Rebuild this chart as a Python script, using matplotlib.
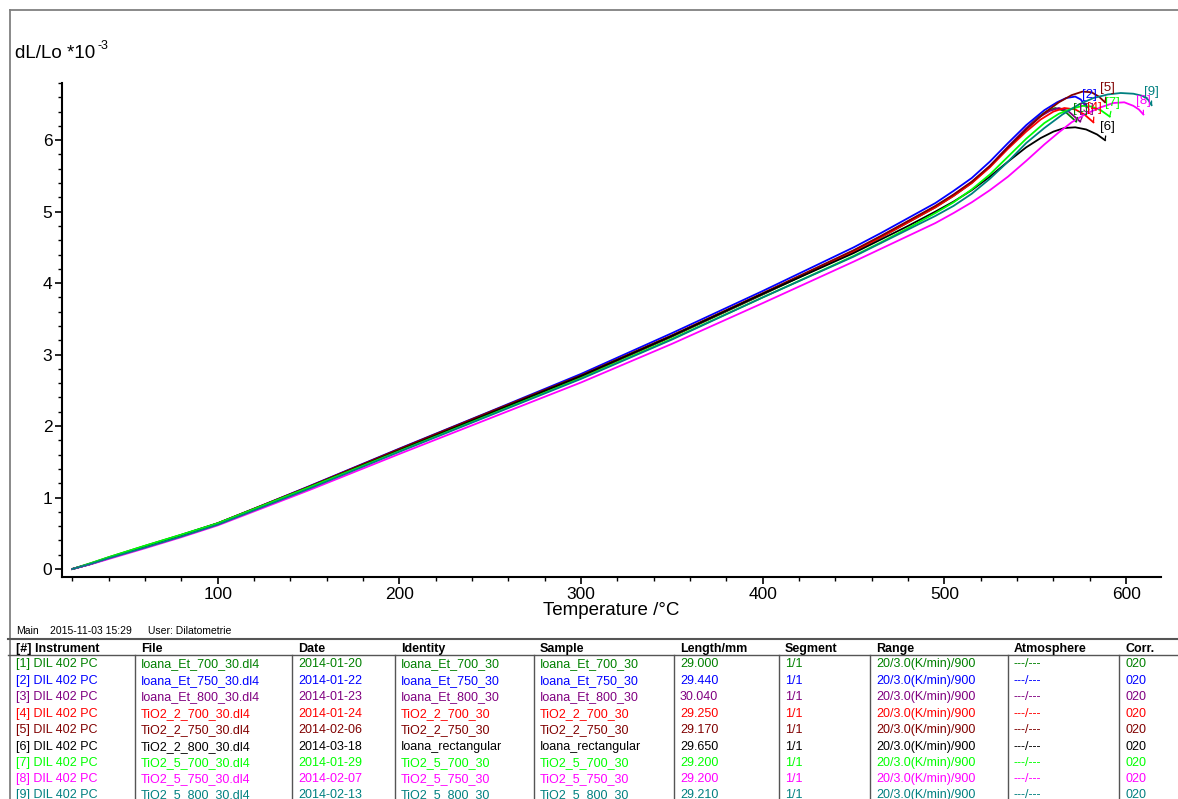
import matplotlib
matplotlib.use("Agg")
import matplotlib.pyplot as plt
from matplotlib.lines import Line2D
from matplotlib.ticker import MultipleLocator

plt.rcParams['font.family'] = ['Liberation Sans', 'DejaVu Sans']

W, H = 1178, 799

# temperature grid shared by the lower part of every run (°C)
t_low = [20, 30, 40, 60, 80, 100, 125, 150, 200, 250, 300, 350, 400, 450]

# dL/Lo (*10^-3) on t_low, then each run's own high-temperature part
dl_1 = [0, 0.08, 0.165, 0.325, 0.48, 0.64, 0.89, 1.145, 1.665, 2.18, 2.69, 3.25, 3.84, 4.44]
t_1 = [465, 480, 495, 505, 515, 525, 535, 545, 551, 556, 561, 566, 572.5]
v_1 = [4.64, 4.85, 5.06, 5.22, 5.40, 5.63, 5.90, 6.16, 6.31, 6.40, 6.45, 6.41, 6.26]

dl_2 = [0, 0.07, 0.155, 0.315, 0.475, 0.64, 0.895, 1.155, 1.685, 2.205, 2.73, 3.30, 3.89, 4.50]
t_2 = [465, 480, 495, 505, 515, 525, 535, 545, 555, 562, 567, 572, 575, 577.4]
v_2 = [4.70, 4.91, 5.12, 5.29, 5.47, 5.70, 5.96, 6.21, 6.42, 6.53, 6.59, 6.61, 6.57, 6.49]

dl_3 = [0, 0.07, 0.155, 0.31, 0.47, 0.635, 0.89, 1.145, 1.67, 2.19, 2.70, 3.26, 3.85, 4.45]
t_3 = [465, 480, 495, 505, 515, 525, 535, 545, 552, 558, 563, 568, 574.7]
v_3 = [4.65, 4.86, 5.07, 5.23, 5.41, 5.64, 5.91, 6.17, 6.32, 6.41, 6.45, 6.41, 6.26]

dl_4 = [0, 0.07, 0.155, 0.31, 0.47, 0.635, 0.89, 1.145, 1.67, 2.19, 2.70, 3.26, 3.85, 4.44]
t_4 = [465, 480, 495, 505, 515, 525, 535, 545, 553, 560, 566, 572, 577, 582]
v_4 = [4.64, 4.85, 5.06, 5.22, 5.40, 5.62, 5.88, 6.12, 6.29, 6.40, 6.45, 6.43, 6.36, 6.25]

dl_5 = [0, 0.07, 0.155, 0.31, 0.47, 0.64, 0.895, 1.15, 1.68, 2.20, 2.71, 3.27, 3.86, 4.46]
t_5 = [465, 480, 495, 505, 515, 525, 535, 545, 555, 563, 570, 576, 581, 585, 588.4]
v_5 = [4.66, 4.87, 5.08, 5.24, 5.42, 5.64, 5.90, 6.15, 6.38, 6.53, 6.63, 6.68, 6.67, 6.61, 6.53]

dl_6 = [0, 0.07, 0.15, 0.31, 0.47, 0.63, 0.885, 1.14, 1.66, 2.18, 2.70, 3.26, 3.85, 4.42]
t_6 = [465, 480, 495, 505, 515, 525, 535, 545, 553, 560, 566, 572, 578, 584, 588.4]
v_6 = [4.61, 4.80, 5.00, 5.14, 5.30, 5.49, 5.70, 5.90, 6.03, 6.12, 6.17, 6.18, 6.15, 6.08, 6.00]

dl_7 = [0, 0.08, 0.165, 0.325, 0.48, 0.64, 0.89, 1.14, 1.65, 2.16, 2.67, 3.22, 3.80, 4.38]
t_7 = [465, 480, 495, 505, 515, 525, 535, 545, 555, 563, 570, 576, 581, 586, 591]
v_7 = [4.57, 4.77, 4.98, 5.13, 5.31, 5.52, 5.77, 6.02, 6.24, 6.37, 6.44, 6.48, 6.47, 6.42, 6.33]

dl_8 = [0, 0.065, 0.14, 0.29, 0.445, 0.61, 0.855, 1.10, 1.61, 2.11, 2.61, 3.15, 3.72, 4.30]
t_8 = [465, 480, 495, 505, 515, 525, 535, 545, 555, 563, 570, 578, 586, 593, 599, 604, 607, 609.5]
v_8 = [4.48, 4.66, 4.84, 4.98, 5.13, 5.30, 5.49, 5.71, 5.94, 6.11, 6.25, 6.37, 6.46, 6.52, 6.53, 6.48, 6.43, 6.36]

dl_9 = [0, 0.07, 0.15, 0.30, 0.455, 0.62, 0.87, 1.12, 1.64, 2.15, 2.66, 3.21, 3.80, 4.37]
t_9 = [465, 480, 495, 505, 515, 525, 535, 545, 555, 565, 574, 582, 590, 597, 604, 609, 612, 614]
v_9 = [4.56, 4.75, 4.94, 5.08, 5.25, 5.46, 5.70, 5.96, 6.17, 6.36, 6.50, 6.59, 6.64, 6.66, 6.65, 6.62, 6.57, 6.49]

runs = [(dl_1, t_1, v_1), (dl_2, t_2, v_2), (dl_3, t_3, v_3),
        (dl_4, t_4, v_4), (dl_5, t_5, v_5), (dl_6, t_6, v_6),
        (dl_7, t_7, v_7), (dl_8, t_8, v_8), (dl_9, t_9, v_9)]

colors = ['#008000', '#0000ff', '#800080', '#ff0000', '#800000',
          '#000000', '#00ff00', '#ff00ff', '#008080']

# label offsets from curve end, in pixels (right, up)
label_off = [(4, 13), (4, 10), (6, 13), (1, 14), (2, 14), (2, 13), (3, 14), (0, 13), (0, 13)]

files = ['Ioana_Et_700_30.dl4', 'Ioana_Et_750_30.dl4', 'Ioana_Et_800_30.dl4',
         'TiO2_2_700_30.dl4', 'TiO2_2_750_30.dl4', 'TiO2_2_800_30.dl4',
         'TiO2_5_700_30.dl4', 'TiO2_5_750_30.dl4', 'TiO2_5_800_30.dl4']
dates = ['2014-01-20', '2014-01-22', '2014-01-23', '2014-01-24', '2014-02-06',
         '2014-03-18', '2014-01-29', '2014-02-07', '2014-02-13']
identities = ['Ioana_Et_700_30', 'Ioana_Et_750_30', 'Ioana_Et_800_30',
              'TiO2_2_700_30', 'TiO2_2_750_30', 'Ioana_rectangular',
              'TiO2_5_700_30', 'TiO2_5_750_30', 'TiO2_5_800_30']
lengths = ['29.000', '29.440', '30.040', '29.250', '29.170', '29.650',
           '29.200', '29.200', '29.210']

headers = ['[#] Instrument', 'File', 'Date', 'Identity', 'Sample',
           'Length/mm', 'Segment', 'Range', 'Atmosphere', 'Corr.']
col_x = [16, 141, 298, 401, 540, 680, 785, 876, 1014, 1125]
sep_x = [135, 292, 395, 534, 674, 779, 870, 1008, 1119]
row_y = [663, 680, 696, 713, 729, 746, 762, 778, 794]


def fx(x):
    return x / W


def fy(y):
    return 1 - y / H


fig = plt.figure(figsize=(W / 100, H / 100), dpi=100)
ax = fig.add_axes([fx(62), fy(577), fx(1161) - fx(62), fy(83) - fy(577)])

for i, (dl, tt, vv) in enumerate(runs):
    t = t_low + tt
    v = dl + vv
    ax.plot(t, v, color=colors[i], lw=1.3)
    dx, dy = label_off[i]
    ax.annotate('[%d]' % (i + 1), xy=(t[-1], v[-1]),
                xytext=(dx * 0.72, dy * 0.72), textcoords='offset points',
                ha='center', va='center', fontsize=9.5, color=colors[i],
                arrowprops=dict(arrowstyle='-', color=colors[i], lw=0.9,
                                shrinkA=0, shrinkB=0))

ax.set_xlim(14.3, 619.2)
ax.set_ylim(-0.112, 6.8)
ax.xaxis.set_major_locator(MultipleLocator(100))
ax.xaxis.set_minor_locator(MultipleLocator(20))
ax.yaxis.set_major_locator(MultipleLocator(1))
ax.yaxis.set_minor_locator(MultipleLocator(0.2))
ax.set_xticks([100, 200, 300, 400, 500, 600])
for s in ['top', 'right']:
    ax.spines[s].set_visible(False)
for s in ['left', 'bottom']:
    ax.spines[s].set_linewidth(1.5)
ax.tick_params(which='major', length=5, width=1.2, labelsize=12.5, pad=2)
ax.tick_params(which='minor', length=3, width=1.0)
ax.set_xlabel('Temperature /°C', fontsize=13.5, labelpad=0)

# y-axis caption with a plain superscript
fig.text(fx(15), fy(53), 'dL/Lo *10', fontsize=13.5, ha='left', va='center')
fig.text(fx(97.5), fy(46), '-3', fontsize=9, ha='left', va='center')

# outer frame
gray = '#808080'
fig.add_artist(Line2D([fx(10), fx(10)], [fy(10), 0], color=gray, lw=1.3))
fig.add_artist(Line2D([fx(10), 1], [fy(10), fy(10)], color=gray, lw=1.3))

# measurement table
fig.text(fx(16), fy(634), 'Main', fontsize=7.5, va='baseline')
fig.text(fx(50), fy(634), '2015-11-03 15:29', fontsize=7.5, va='baseline')
fig.text(fx(148), fy(634), 'User: Dilatometrie', fontsize=7.5, va='baseline')
fig.add_artist(Line2D([fx(8), 1], [fy(639), fy(639)], color='#555555', lw=1.5))
fig.add_artist(Line2D([fx(8), 1], [fy(655), fy(655)], color='#555555', lw=1.0))
for x in sep_x:
    fig.add_artist(Line2D([fx(x), fx(x)], [fy(655), 0], color='#555555', lw=1.0))

for x, h in zip(col_x, headers):
    fig.text(fx(x), fy(652), h, fontsize=9, fontweight='bold', va='baseline')

for i in range(len(files)):
    cells = ['[%d] DIL 402 PC' % (i + 1), files[i], dates[i], identities[i],
             identities[i], lengths[i], '1/1', '20/3.0(K/min)/900', '---/---', '020']
    for x, c in zip(col_x, cells):
        fig.text(fx(x), fy(row_y[i] + 4), c, fontsize=9, color=colors[i], va='baseline')

fig.savefig('out.png', dpi=100)
